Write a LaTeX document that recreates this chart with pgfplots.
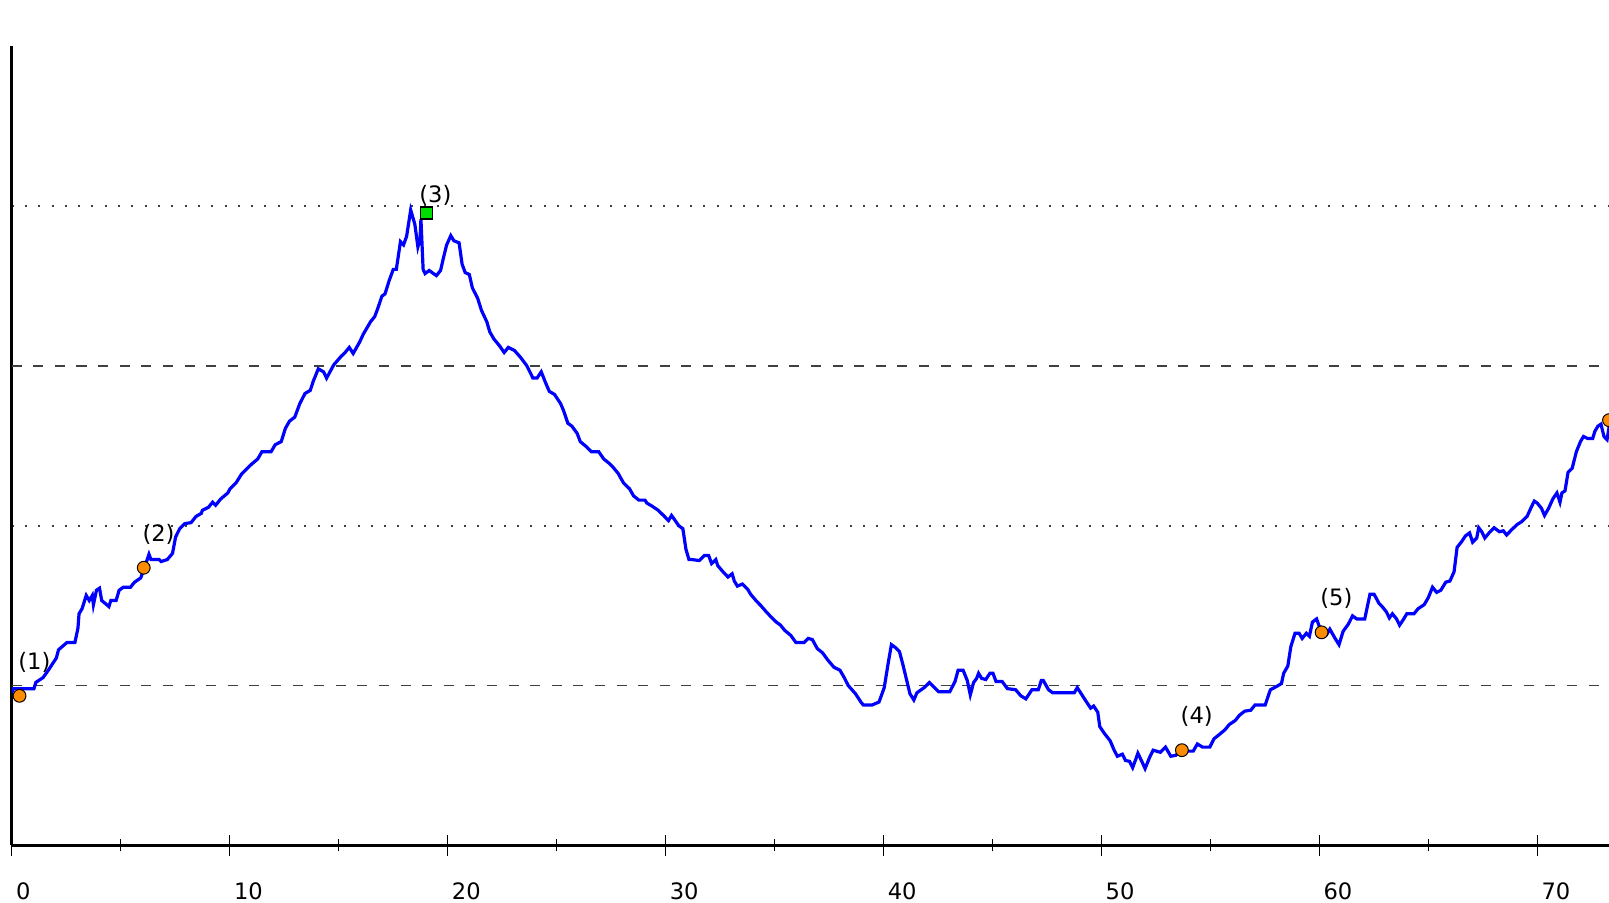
\documentclass[border=0pt]{standalone}
\usepackage{pgfplots}
\pgfplotsset{compat=1.18}
\usepackage{fontspec}
\setmainfont{DejaVu Sans}
\definecolor{orangeM}{RGB}{255,140,0}
\definecolor{greenM}{RGB}{0,224,0}
\definecolor{gridc}{RGB}{64,64,64}
\begin{document}
\begin{tikzpicture}
\begin{axis}[
  name=ax,
  scale only axis,
  width=798.65pt, height=399.75pt,
  xmin=0, xmax=73.3, ymin=-1, ymax=4,
  axis lines=left,
  axis line style={-, line width=1.3pt, black},
  xtick={0,10,20,30,40,50,60,70},
  minor x tick num=1,
  tick align=center,
  major tick length=10.5pt,
  minor tick length=6pt,
  xtick style={line width=0.6pt, black},
  xticklabel style={anchor=north west, inner sep=0pt, xshift=2pt, yshift=-13pt, font=\fontsize{11.3}{13}\selectfont},
  /pgf/number format/assume math mode=true,
  ytick={1,3},
  yticklabels={},
  ytick style={draw=none},
  ymajorgrids,
  major grid style={gridc, line width=1pt, dash pattern=on 1pt off 5.65pt},
  extra y ticks={0,2},
  extra y tick labels={},
  extra y tick style={grid=major, ytick style={draw=none}, major grid style={gridc, line width=0.9pt, dash pattern=on 5pt off 5.8pt}},
  clip marker paths=true,
]
\addplot[blue, line width=1.6pt] coordinates {
(0,-0.045)(0.08,-0.019)(1.02,-0.02)(1.11,0.02)(1.44,0.05)(1.68,0.096)(2.05,0.173)(2.15,0.224)(2.53,0.269)(2.90,0.269)
(3.04,0.359)(3.09,0.449)(3.23,0.481)(3.42,0.564)(3.56,0.532)(3.70,0.564)(3.75,0.506)(3.89,0.596)(4.03,0.609)(4.13,0.532)
(4.36,0.506)(4.46,0.494)(4.55,0.532)(4.79,0.532)(4.93,0.596)(5.12,0.615)(5.45,0.615)(5.64,0.647)(5.92,0.673)(6.11,0.744)
(6.30,0.821)(6.39,0.788)(6.77,0.788)(6.86,0.776)(7.14,0.788)(7.38,0.827)(7.52,0.929)(7.71,0.981)(7.94,1.013)(8.23,1.019)
(8.46,1.058)(8.70,1.077)(8.75,1.096)(9.03,1.115)(9.22,1.147)(9.36,1.128)(9.59,1.167)(9.92,1.205)(10.02,1.231)(10.30,1.269)
(10.54,1.321)(10.77,1.353)(11.01,1.385)(11.29,1.417)(11.48,1.462)(11.90,1.462)(12.09,1.506)(12.37,1.526)(12.56,1.609)(12.75,1.654)
(12.99,1.679)(13.22,1.763)(13.46,1.827)(13.70,1.846)(13.84,1.904)(14.07,1.981)(14.31,1.962)(14.45,1.923)(14.78,2.006)(15.11,2.058)
(15.30,2.083)(15.49,2.115)(15.67,2.077)(15.96,2.147)(16.14,2.199)(16.47,2.276)(16.66,2.308)(16.80,2.359)(16.99,2.436)(17.13,2.449)
(17.32,2.532)(17.51,2.603)(17.65,2.603)(17.84,2.776)(17.98,2.756)(18.12,2.808)(18.31,2.974)(18.50,2.885)(18.64,2.744)(18.74,2.795)
(18.78,2.917)(18.88,2.603)(18.97,2.577)(19.16,2.596)(19.35,2.577)(19.49,2.564)(19.68,2.596)(19.82,2.679)(19.96,2.756)(20.15,2.814)
(20.29,2.782)(20.53,2.769)(20.67,2.635)(20.81,2.583)(21.00,2.571)(21.14,2.487)(21.38,2.423)(21.56,2.346)(21.80,2.276)(21.94,2.212)
(22.13,2.167)(22.37,2.128)(22.60,2.083)(22.79,2.115)(23.07,2.096)(23.36,2.051)(23.64,2.0)(23.92,1.923)(24.11,1.923)(24.30,1.962)
(24.49,1.897)(24.67,1.840)(24.91,1.821)(25.19,1.763)(25.33,1.718)(25.52,1.641)(25.71,1.622)(25.95,1.577)(26.09,1.526)(26.37,1.494)
(26.61,1.462)(26.94,1.462)(27.17,1.417)(27.41,1.391)(27.60,1.365)(27.83,1.327)(28.07,1.269)(28.35,1.231)(28.54,1.186)(28.78,1.160)
(29.06,1.160)(29.15,1.141)(29.39,1.122)(29.67,1.096)(29.91,1.064)(30.14,1.032)(30.28,1.064)(30.38,1.045)(30.61,1.0)(30.80,0.981)
(30.94,0.853)(31.08,0.788)(31.22,0.788)(31.55,0.782)(31.79,0.814)(31.98,0.814)(32.12,0.763)(32.31,0.788)(32.40,0.750)(32.64,0.712)
(32.87,0.679)(33.06,0.699)(33.16,0.654)(33.30,0.622)(33.53,0.635)(33.77,0.603)(33.91,0.571)(34.19,0.526)(34.38,0.5)(34.62,0.462)
(34.85,0.429)(35.09,0.397)(35.28,0.378)(35.47,0.346)(35.75,0.314)(35.99,0.269)(36.36,0.269)(36.55,0.295)(36.74,0.288)(36.97,0.231)
(37.21,0.205)(37.45,0.160)(37.73,0.115)(38.01,0.096)(38.20,0.051)(38.39,0.0)(38.72,-0.051)(39.00,-0.109)(39.09,-0.122)(39.47,-0.122)
(39.80,-0.103)(40.04,-0.013)(40.23,0.147)(40.37,0.256)(40.56,0.237)(40.74,0.212)(40.89,0.135)(41.22,-0.051)(41.40,-0.090)(41.54,-0.045)
(41.87,-0.013)(42.11,0.019)(42.35,-0.013)(42.53,-0.038)(43.05,-0.038)(43.29,0.026)(43.43,0.096)(43.66,0.096)(43.85,0.032)(43.99,-0.058)
(44.14,0.019)(44.28,0.045)(44.37,0.077)(44.51,0.045)(44.70,0.038)(44.89,0.077)(45.03,0.077)(45.17,0.026)(45.45,0.026)(45.69,-0.019)
(46.07,-0.026)(46.31,-0.064)(46.54,-0.083)(46.82,-0.026)(47.11,-0.026)(47.25,0.032)(47.34,0.032)(47.58,-0.026)(47.77,-0.045)(48.76,-0.045)
(48.90,-0.013)(49.23,-0.083)(49.51,-0.141)(49.65,-0.128)(49.84,-0.167)(49.93,-0.256)(50.12,-0.295)(50.41,-0.346)(50.59,-0.404)(50.74,-0.442)
(50.97,-0.429)(51.11,-0.468)(51.30,-0.474)(51.44,-0.513)(51.58,-0.462)(51.68,-0.423)(51.86,-0.474)(52.01,-0.519)(52.24,-0.442)(52.38,-0.404)
(52.71,-0.417)(52.95,-0.385)(53.19,-0.442)(53.42,-0.436)(53.66,-0.404)(53.94,-0.410)(54.22,-0.410)(54.41,-0.365)(54.65,-0.385)(54.98,-0.385)
(55.17,-0.333)(55.40,-0.308)(55.68,-0.276)(55.87,-0.244)(56.15,-0.218)(56.34,-0.186)(56.58,-0.160)(56.86,-0.154)(57.05,-0.122)(57.52,-0.122)
(57.76,-0.026)(58.04,-0.006)(58.27,0.013)(58.37,0.077)(58.56,0.122)(58.70,0.244)(58.89,0.327)(59.08,0.327)(59.22,0.295)(59.41,0.327)
(59.55,0.308)(59.69,0.397)(59.88,0.417)(60.07,0.346)(60.35,0.321)(60.49,0.353)(60.73,0.295)(60.91,0.256)(61.10,0.340)(61.34,0.385)
(61.53,0.436)(61.72,0.417)(62.09,0.417)(62.33,0.571)(62.52,0.571)(62.75,0.513)(62.89,0.494)(63.08,0.462)(63.22,0.423)(63.36,0.449)
(63.55,0.417)(63.69,0.378)(63.88,0.417)(64.02,0.449)(64.35,0.449)(64.54,0.481)(64.82,0.506)(65.01,0.551)(65.20,0.615)(65.39,0.583)
(65.58,0.596)(65.81,0.647)(66.00,0.654)(66.19,0.712)(66.33,0.865)(66.52,0.897)(66.71,0.936)(66.90,0.955)(67.04,0.897)(67.23,0.923)
(67.32,0.987)(67.46,0.962)(67.60,0.923)(67.84,0.962)(68.03,0.987)(68.27,0.962)(68.45,0.968)(68.60,0.942)(68.83,0.974)(69.07,1.006)
(69.30,1.026)(69.54,1.058)(69.73,1.115)(69.87,1.154)(70.01,1.141)(70.20,1.109)(70.34,1.064)(70.53,1.109)(70.72,1.167)(70.91,1.205)
(71.05,1.147)(71.14,1.205)(71.28,1.218)(71.42,1.333)(71.61,1.359)(71.80,1.462)(71.99,1.526)(72.13,1.558)(72.32,1.545)(72.55,1.545)
(72.65,1.590)(72.79,1.622)(72.93,1.635)(73.07,1.558)(73.21,1.538)(73.35,1.654)
};
\addplot[only marks, mark=*, mark size=3.2pt, mark options={fill=orangeM, draw=black, line width=0.5pt},
  nodes near coords, point meta=explicit symbolic,
  nodes near coords style={anchor=center, xshift=7.4pt, yshift=16.9pt, text=black, font=\fontsize{11.3}{13}\selectfont}]
  table[meta=label] {
x y label
0.36 -0.064 (1)
6.06 0.737 (2)
53.70 -0.404 (4)
60.11 0.333 (5)
};
\addplot[only marks, mark=*, mark size=3.2pt, mark options={fill=orangeM, draw=black, line width=0.5pt}]
  coordinates {(73.3,1.66)};
\addplot[only marks, mark=square*, mark size=3pt, mark options={fill=greenM, draw=black, line width=0.6pt},
  nodes near coords, point meta=explicit symbolic,
  nodes near coords style={anchor=center, xshift=4.6pt, yshift=8.7pt, text=black, font=\fontsize{11.3}{13}\selectfont}]
  table[meta=label] {
x y label
19.02 2.955 (3)
};
\end{axis}
\pgfresetboundingbox
\path[use as bounding box] ([shift={(-5.85pt,-28.75pt)}]ax.south west) rectangle ([shift={(0pt,23pt)}]ax.north east);
\end{tikzpicture}
\end{document}
